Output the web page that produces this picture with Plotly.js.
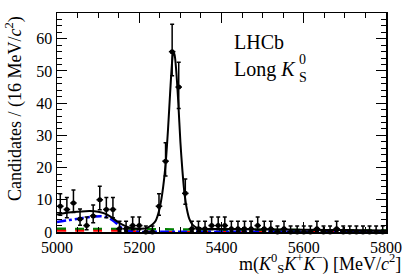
<!DOCTYPE html>
<html>
<head>
<meta charset="utf-8">
<script src="https://cdn.plot.ly/plotly-3.0.1.min.js"></script>
<style>html,body{margin:0;padding:0;background:#fff;}#plot{width:407px;height:276px;}</style>
</head>
<body>
<div id="plot"></div>
<script>
// Data points (bin centres in MeV/c^2, 16 MeV bins)
const binCenters = [5008,5024,5040,5056,5072,5088,5104,5120,5136,5152,
                    5168,5184,5200,5216,5232,5248,5264,5280,5296,5312,
                    5328,5344,5360,5376,5392,5408,5424,5440,5456,5472,
                    5488,5504,5520,5536,5552,5568,5584,5600,5616,5632,
                    5648,5664,5680,5696,5712,5728,5744,5760,5776,5792];
const counts = [8,7,9,4,2,5,10,7,7,1,
                1,2,2,0,0,8,22,56,45,12,
                1,1,1,2,2,2,1,1,1,1,
                2,1,1,0,1,0,0,0,0,1,
                0,0,1,0,0,0,0,0,0,0];
const errLo = [2.77,2.58,2.94,1.91,1.29,2.16,3.11,2.58,2.58,0.83,
               0.83,1.29,1.29,0,0,2.77,4.65,7.45,6.66,3.41,
               0.83,0.83,0.83,1.29,1.29,1.29,0.83,0.83,0.83,0.83,
               1.29,0.83,0.83,0,0.83,0,0,0,0,0.83,
               0,0,0.83,0,0,0,0,0,0,0];
const errHi = [3.91,3.75,4.06,3.16,2.64,3.38,4.21,3.75,3.75,2.30,
               2.30,2.64,2.64,1.84,1.84,3.91,5.73,8.53,7.74,4.47,
               2.30,2.30,2.30,2.64,2.64,2.64,2.30,2.30,2.30,2.30,
               2.64,2.30,2.30,1.84,2.30,1.84,1.84,1.84,1.84,2.30,
               1.84,1.84,2.30,1.84,1.84,1.84,1.84,1.84,1.84,1.84];
const halfBin = 8;

// Fit curves
const fitMass  = [5000,5020,5040,5060,5080,5100,5115,5130,5145,5160,5175,5190,5205,5220,5232,5240,5248,5256,5264,5270,5275,5280,5283,5286,5290,5295,5300,5305,5310,5316,5322,5330,5340,5355,5400,5500,5600,5700,5800];
const fitTotal = [5.4,5.9,6.2,6.4,6.5,6.3,5.8,4.8,3.4,2.2,1.4,1.1,1.0,1.3,2.3,3.5,6.5,12,21,32,43,53,56,55,50,40,28,19,12,7,4,2.2,1.3,1.0,0.9,0.8,0.7,0.6,0.5];
const blueMass = [5000,5030,5060,5090,5110,5125,5140,5155,5170,5190,5250,5400,5600,5800];
const blueBkg  = [3.1,3.7,4.3,4.8,4.9,4.4,3.2,1.5,0.4,0.08,0.05,0.05,0.05,0.05];
const greenMass = [5000,5200,5400,5600,5800];
const greenBkg  = [1.0,0.85,0.7,0.55,0.45];
const redMass = [5000,5100,5170,5200,5230,5400,5800];
const redBkg  = [0.4,0.4,0.35,0.15,0.05,0.03,0.02];

const serif = 'Liberation Serif';

const traces = [
  {x: greenMass, y: greenBkg, type:'scatter', mode:'lines', line:{color:'#008000', width:2.5, dash:'dash'}, hoverinfo:'skip'},
  {x: redMass, y: redBkg, type:'scatter', mode:'lines', line:{color:'#ff0000', width:2, dash:'dash', shape:'spline'}, hoverinfo:'skip'},
  {x: blueMass, y: blueBkg, type:'scatter', mode:'lines', line:{color:'#0000ff', width:2.5, dash:'dashdot', shape:'spline'}, hoverinfo:'skip'},
  {x: fitMass, y: fitTotal, type:'scatter', mode:'lines', line:{color:'#000000', width:2, shape:'spline', smoothing:0.8}, hoverinfo:'skip'},
  {x: binCenters, y: counts, type:'scatter', mode:'markers', cliponaxis:false,
   marker:{color:'#000', size:5, symbol:'circle'},
   error_x:{type:'constant', value:halfBin, color:'#000', thickness:1.5, width:0},
   error_y:{type:'data', symmetric:false, array:errHi, arrayminus:errLo, color:'#000', thickness:1.5, width:2}}
];

const axisCommon = {showgrid:false, zeroline:false, showline:true, linecolor:'#000', linewidth:1.5,
  mirror:'ticks', ticks:'inside', ticklen:10, tickwidth:1, tickcolor:'#000',
  tickfont:{family:serif, size:16, color:'#000'}};

const layout = {
  width:407, height:276,
  margin:{l:57, r:21, t:13, b:44},
  paper_bgcolor:'#fff', plot_bgcolor:'#fff',
  font:{family:serif, color:'#000'},
  showlegend:false,
  xaxis: Object.assign({}, axisCommon, {range:[5000,5800], dtick:200, tick0:5000,
    minor:{dtick:50, ticks:'inside', ticklen:5, tickcolor:'#000', tickwidth:1}}),
  yaxis: Object.assign({}, axisCommon, {range:[0,68], dtick:10, tick0:0,
    minor:{dtick:2, ticks:'inside', ticklen:5, tickcolor:'#000', tickwidth:1}}),
  annotations:[
    {xref:'paper', yref:'paper', x:-0.1307, y:0.566, xanchor:'center', yanchor:'middle', textangle:-90, showarrow:false,
     text:'Candidates / (16 MeV/<i>c</i><sup>2</sup>)', font:{family:serif, size:18, color:'#000'}},
    {xref:'paper', yref:'paper', x:1.0517, y:-0.146, xanchor:'right', yanchor:'middle', showarrow:false,
     text:'m(<i>K</i><sup>0</sup><sub>S</sub><i>K</i><sup>+</sup><i>K</i><sup>−</sup>) [MeV/<i>c</i><sup>2</sup>]', font:{family:serif, size:18, color:'#000'}},
    {xref:'paper', yref:'paper', x:0.532, y:0.868, xanchor:'left', yanchor:'middle', showarrow:false,
     text:'LHCb', font:{family:serif, size:20, color:'#000'}},
    {xref:'paper', yref:'paper', x:0.532, y:0.74, xanchor:'left', yanchor:'middle', showarrow:false,
     text:'Long <i>K</i>', font:{family:serif, size:20, color:'#000'}},
    {xref:'paper', yref:'paper', x:0.728, y:0.787, xanchor:'left', yanchor:'middle', showarrow:false,
     text:'0', font:{family:serif, size:14, color:'#000'}},
    {xref:'paper', yref:'paper', x:0.728, y:0.705, xanchor:'left', yanchor:'middle', showarrow:false,
     text:'S', font:{family:serif, size:14, color:'#000'}}
  ]
};

Plotly.newPlot('plot', traces, layout, {staticPlot:true, displayModeBar:false});
</script>
</body>
</html>
